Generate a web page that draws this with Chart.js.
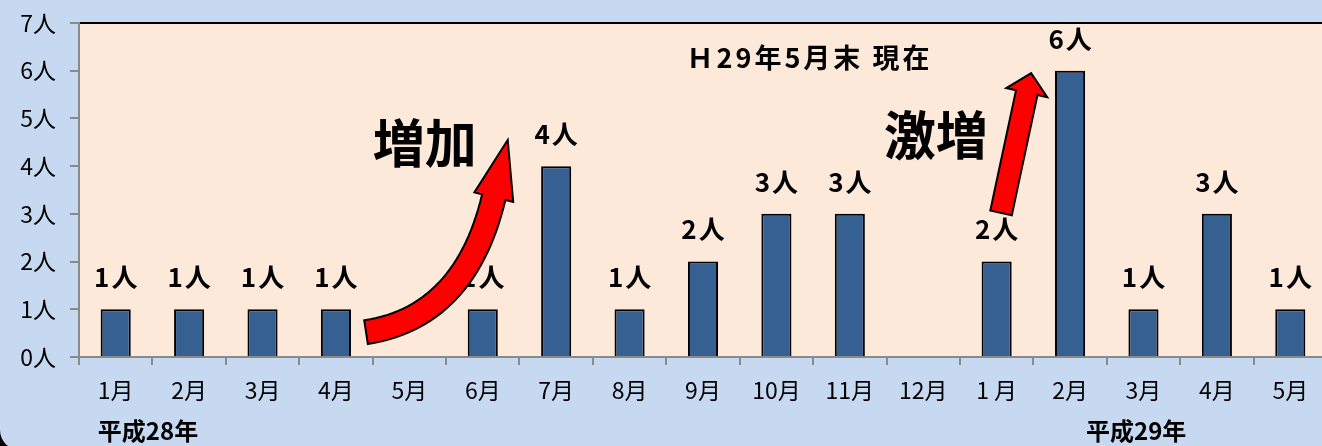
<!DOCTYPE html>
<html>
<head>
<meta charset="utf-8">
<script src="https://cdn.jsdelivr.net/npm/chart.js@4"></script>
<style>
  html, body { margin: 0; padding: 0; background: #000; overflow: hidden; width: 1322px; height: 446px; }
  #frame { position: absolute; left: 0; top: -40px; width: 1400px; height: 490px; background: #c6d9f1; border-radius: 20px; }
  #chart { position: absolute; left: 0; top: 0; }
</style>
</head>
<body>
<div id="frame"></div>
<canvas id="chart" width="1340" height="446"></canvas>
<script>
const months = ['1月', '2月', '3月', '4月', '5月', '6月', '7月', '8月', '9月', '10月', '11月', '12月',
                '1 月', '2月', '3月', '4月', '5月'];
const counts = [1, 1, 1, 1, 0, 1, 4, 1, 2, 3, 3, 0, 2, 6, 1, 3, 1];
const yTicks = ['0人', '1人', '2人', '3人', '4人', '5人', '6人', '7人'];

const FONT = "'Noto Sans CJK JP', sans-serif";

// text placed in data space: [category index, value]
const notes = [
  { text: 'Ｈ29年5月末 現在', at: [9.43, 6.27], size: 27, spacing: 3 },
  { text: '増加', at: [4.21, 4.47], size: 52, spacing: 0 },
  { text: '激増', at: [11.17, 4.64], size: 52, spacing: 0 },
  { text: '平成28年', at: [0.44, -1.55], size: 24, spacing: 0 },
  { text: '平成29年', at: [13.9, -1.55], size: 24, spacing: 0 }
];

const arrows = [
  { from: [3.41, 0.52], ctrl: [4.76, 0.84], to: [5.15, 3.35], tip: [5.34, 4.55], shaft: 24, head: 20 },
  { from: [12.06, 3.02], ctrl: [12.235, 4.28], to: [12.41, 5.54], tip: [12.47, 5.95], shaft: 22, head: 21 }
];

function drawArrow(ctx, p0, c, p1, tip, shaft, head) {
  const n = 30, left = [], right = [];
  for (let i = 0; i <= n; i++) {
    const t = i / n, u = 1 - t;
    const x = u * u * p0.x + 2 * u * t * c.x + t * t * p1.x;
    const y = u * u * p0.y + 2 * u * t * c.y + t * t * p1.y;
    let dx = 2 * u * (c.x - p0.x) + 2 * t * (p1.x - c.x);
    let dy = 2 * u * (c.y - p0.y) + 2 * t * (p1.y - c.y);
    const len = Math.hypot(dx, dy);
    dx /= len; dy /= len;
    left.push([x - dy * shaft / 2, y + dx * shaft / 2]);
    right.push([x + dy * shaft / 2, y - dx * shaft / 2]);
  }
  let hx = tip.x - p1.x, hy = tip.y - p1.y;
  const hl = Math.hypot(hx, hy);
  hx /= hl; hy /= hl;
  ctx.beginPath();
  ctx.moveTo(left[0][0], left[0][1]);
  left.forEach(p => ctx.lineTo(p[0], p[1]));
  ctx.lineTo(p1.x - hy * head, p1.y + hx * head);
  ctx.lineTo(tip.x, tip.y);
  ctx.lineTo(p1.x + hy * head, p1.y - hx * head);
  right.reverse().forEach(p => ctx.lineTo(p[0], p[1]));
  ctx.closePath();
  ctx.fillStyle = '#ff0000';
  ctx.fill();
  ctx.strokeStyle = '#000';
  ctx.lineWidth = 2;
  ctx.lineJoin = 'miter';
  ctx.stroke();
}

const decor = {
  id: 'decor',
  beforeDraw(chart) {
    const { ctx, chartArea: a } = chart;
    ctx.save();
    ctx.fillStyle = '#fde9d9';
    ctx.fillRect(a.left, a.top, a.right - a.left, a.bottom - a.top);
    ctx.strokeStyle = '#000';
    ctx.lineWidth = 2;
    ctx.beginPath();
    ctx.moveTo(a.left, a.top);
    ctx.lineTo(a.right + 20, a.top);
    ctx.stroke();
    ctx.restore();
  },
  afterDatasetsDraw(chart) {
    const { ctx, scales: { x, y } } = chart;
    const pt = v => ({ x: x.getPixelForValue(v[0]), y: y.getPixelForValue(v[1]) });
    ctx.save();
    ctx.fillStyle = '#000';
    ctx.textAlign = 'center';
    ctx.textBaseline = 'middle';

    // value labels above bars
    ctx.font = `bold 26px ${FONT}`;
    ctx.letterSpacing = '2px';
    chart.getDatasetMeta(0).data.forEach((bar, i) => {
      if (counts[i] > 0) ctx.fillText(counts[i] + '人', bar.x + 1, bar.y - 32);
    });

    notes.forEach(nt => {
      const p = pt(nt.at);
      ctx.font = `bold ${nt.size}px ${FONT}`;
      ctx.letterSpacing = nt.spacing + 'px';
      ctx.fillText(nt.text, p.x + nt.spacing / 2, p.y);
    });
    ctx.letterSpacing = '0px';

    arrows.forEach(ar => {
      drawArrow(ctx, pt(ar.from), pt(ar.ctrl), pt(ar.to), pt(ar.tip), ar.shaft, ar.head);
    });
    ctx.restore();
  }
};

new Chart(document.getElementById('chart'), {
  type: 'bar',
  data: {
    labels: months,
    datasets: [{
      data: counts,
      backgroundColor: '#366092',
      borderColor: '#000',
      borderWidth: 2,
      barPercentage: 0.41,
      categoryPercentage: 1.0
    }]
  },
  options: {
    responsive: false,
    animation: false,
    layout: { padding: { top: 23, right: 13, bottom: 0, left: 0 } },
    plugins: { legend: { display: false }, tooltip: { enabled: false } },
    scales: {
      x: {
        afterFit: s => { s.height = 89; },
        grid: { drawOnChartArea: false, tickLength: 8, color: '#8a8a8a', lineWidth: 2, offset: true },
        border: { color: '#8a8a8a', width: 2 },
        ticks: { color: '#000', padding: 11, maxRotation: 0, autoSkip: false, font: { family: FONT, size: 23 } }
      },
      y: {
        min: 0,
        max: 7,
        afterFit: s => { s.width = 79; s.paddingTop = 0; s.paddingBottom = 0; },
        grid: { drawOnChartArea: false, tickLength: 9, color: '#8a8a8a', lineWidth: 2 },
        border: { color: '#8a8a8a', width: 2 },
        ticks: {
          stepSize: 1,
          color: '#000',
          padding: 14,
          font: { family: FONT, size: 23 },
          callback: v => yTicks[v]
        }
      }
    }
  },
  plugins: [decor]
});
</script>
</body>
</html>
